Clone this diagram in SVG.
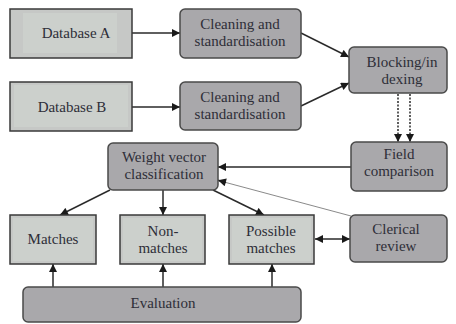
<svg xmlns="http://www.w3.org/2000/svg" width="456" height="324" viewBox="0 0 456 324">
<defs>
<style>
.sq{fill:#c6c8c6;stroke:#3a3a3a;stroke-width:1.5}
.sqi{fill:#ccd0cc;stroke:none}
.rd{fill:#a9a8ab;stroke:#4a4a4a;stroke-width:1.5}
text{font-family:"Liberation Serif","Times New Roman",serif;font-size:15px;fill:#2e2e38;text-anchor:middle}
.ln{stroke:#2a2a2a;stroke-width:1.5;fill:none}
.dash{stroke:#2a2a2a;stroke-width:1.5;stroke-dasharray:2 1.5;fill:none}
.lt{stroke:#8a8a8a;stroke-width:1;fill:none}
</style>
<marker id="ah" viewBox="0 0 10 10" refX="10" refY="5" markerWidth="10" markerHeight="8" markerUnits="userSpaceOnUse" orient="auto-start-reverse">
<path d="M0,0 L10,5 L0,10 z" fill="#1a1a1a"/>
</marker>
</defs>
<g id="connectors">
<line class="ln" x1="132" y1="33" x2="180" y2="33" marker-end="url(#ah)"/>
<line class="ln" x1="132" y1="107" x2="180" y2="107" marker-end="url(#ah)"/>
<line class="ln" x1="301" y1="33" x2="349" y2="57" marker-end="url(#ah)"/>
<line class="ln" x1="301" y1="106" x2="349" y2="83" marker-end="url(#ah)"/>
<line class="dash" x1="398" y1="94" x2="398" y2="142" marker-end="url(#ah)"/>
<line class="dash" x1="410" y1="94" x2="410" y2="142" marker-end="url(#ah)"/>
<line class="ln" x1="351" y1="167" x2="218" y2="167" marker-end="url(#ah)"/>
<line class="lt" x1="351" y1="216" x2="224" y2="182"/>
<line class="ln" x1="226" y1="182.5" x2="218" y2="180.3" marker-end="url(#ah)"/>
<line class="ln" x1="110" y1="190" x2="60" y2="215" marker-end="url(#ah)"/>
<line class="ln" x1="163" y1="190" x2="163" y2="215" marker-end="url(#ah)"/>
<line class="ln" x1="213" y1="190" x2="264" y2="215" marker-end="url(#ah)"/>
<line class="ln" x1="315" y1="239" x2="350" y2="239" marker-start="url(#ah)" marker-end="url(#ah)"/>
<line class="ln" x1="53" y1="287" x2="53" y2="264" marker-end="url(#ah)"/>
<line class="ln" x1="163" y1="287" x2="163" y2="264" marker-end="url(#ah)"/>
<line class="ln" x1="272" y1="287" x2="272" y2="264" marker-end="url(#ah)"/>
</g>
<g id="database-a">
<rect class="sq" x="10" y="9" width="122" height="49"/>
<rect class="sqi" x="23" y="13" width="94" height="40"/>
<text x="76" y="38">Database A</text>
</g>
<g id="database-b">
<rect class="sq" x="10" y="82" width="122" height="49"/>
<rect class="sqi" x="14" y="85" width="114" height="42"/>
<text x="72" y="112">Database B</text>
</g>
<g id="cleaning-a">
<rect class="rd" x="180" y="9" width="121" height="49" rx="5"/>
<text x="240" y="29">Cleaning and</text>
<text x="240" y="46">standardisation</text>
</g>
<g id="cleaning-b">
<rect class="rd" x="180" y="82" width="121" height="48" rx="5"/>
<text x="240" y="102">Cleaning and</text>
<text x="240" y="119">standardisation</text>
</g>
<g id="blocking">
<rect class="rd" x="349" y="47" width="98" height="46" rx="5"/>
<text x="402" y="67">Blocking/in</text>
<text x="402" y="84">dexing</text>
</g>
<g id="field-comparison">
<rect class="rd" x="351" y="142" width="96" height="49" rx="5"/>
<text x="399" y="159">Field</text>
<text x="399" y="176">comparison</text>
</g>
<g id="weight-vector">
<rect class="rd" x="108" y="143" width="110" height="47" rx="5"/>
<text x="164" y="162">Weight vector</text>
<text x="164" y="179">classification</text>
</g>
<g id="matches">
<rect class="sq" x="10" y="215" width="86" height="49"/>
<rect class="sqi" x="13" y="218" width="80" height="43"/>
<text x="53" y="244">Matches</text>
</g>
<g id="non-matches">
<rect class="sq" x="120" y="215" width="85" height="49"/>
<rect class="sqi" x="123" y="218" width="79" height="43"/>
<text x="163" y="236">Non-</text>
<text x="163" y="253">matches</text>
</g>
<g id="possible-matches">
<rect class="sq" x="229" y="215" width="85" height="49"/>
<rect class="sqi" x="232" y="218" width="79" height="43"/>
<text x="271" y="236">Possible</text>
<text x="271" y="253">matches</text>
</g>
<g id="clerical-review">
<rect class="rd" x="350" y="215" width="97" height="47" rx="5"/>
<text x="396" y="234">Clerical</text>
<text x="396" y="251">review</text>
</g>
<g id="evaluation">
<rect class="rd" x="23" y="287" width="278" height="35" rx="5"/>
<text x="163" y="308">Evaluation</text>
</g>
</svg>
